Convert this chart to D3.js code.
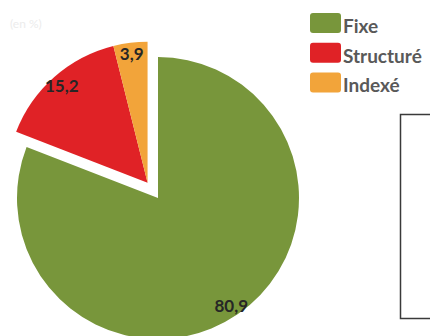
<!DOCTYPE html>
<html>
<head>
<meta charset="utf-8">
<script src="https://cdn.jsdelivr.net/npm/d3@7"></script>
<style>
  body { margin: 0; background: #fff; }
  svg { display: block; }
</style>
</head>
<body>
<svg width="430" height="336"></svg>
<script>
(function () {

    var categories = ["Fixe", "Structuré", "Indexé"];
    var values = [80.9, 15.2, 3.9];
    var valueLabels = ["80,9", "15,2", "3,9"];
    var colors = ["#78963b", "#e02226", "#f2a43a"];
    var exploded = [false, true, true];

    var svg = d3.select("svg"),
        width = +svg.attr("width"),
        height = +svg.attr("height");

    var cx = 158, cy = 198, radius = 141, explode = 18.5;

    var pie = d3.pie().sort(null).value(function (d) { return d.value; });
    var arcs = pie(categories.map(function (c, i) {
        return { name: c, value: values[i], label: valueLabels[i], color: colors[i], out: exploded[i] };
    }));

    // the two small slices are pulled out together, along their shared middle
    var outArcs = arcs.filter(function (d) { return d.data.out; });
    var midOut = (d3.min(outArcs, function (d) { return d.startAngle; }) +
                  d3.max(outArcs, function (d) { return d.endAngle; })) / 2;
    var ox = Math.sin(midOut) * explode,
        oy = -Math.cos(midOut) * explode;

    var arc = d3.arc().innerRadius(0).outerRadius(radius);
    var labelArc = d3.arc().innerRadius(radius * 0.92).outerRadius(radius * 0.92);

    // faint caption top left
    svg.append("text")
        .attr("x", 10)
        .attr("y", 28)
        .attr("font-family", "Lato, sans-serif")
        .attr("font-size", 12)
        .attr("fill", "#ececec")
        .text("(en %)");

    var g = svg.append("g");

    var slice = g.selectAll(".slice")
        .data(arcs)
        .enter().append("g")
        .attr("class", "slice")
        .attr("transform", function (d) {
            var dx = d.data.out ? ox : 0, dy = d.data.out ? oy : 0;
            return "translate(" + (cx + dx) + "," + (cy + dy) + ")";
        });

    slice.append("path")
        .attr("d", arc)
        .attr("fill", function (d) { return d.data.color; });

    slice.append("text")
        .attr("transform", function (d) { return "translate(" + labelArc.centroid(d) + ")"; })
        .attr("text-anchor", "middle")
        .attr("dominant-baseline", "central")
        .attr("font-family", "Lato, sans-serif")
        .attr("font-weight", "bold")
        .attr("font-size", 17)
        .attr("fill", "#262626")
        .text(function (d) { return d.data.label; });

    // legend
    var legend = svg.append("g")
        .attr("transform", "translate(310,13)");

    var item = legend.selectAll(".item")
        .data(categories)
        .enter().append("g")
        .attr("class", "item")
        .attr("transform", function (d, i) { return "translate(0," + (i * 29.7) + ")"; });

    item.append("rect")
        .attr("width", 31)
        .attr("height", 20)
        .attr("rx", 3)
        .attr("fill", function (d, i) { return colors[i]; });

    item.append("text")
        .attr("x", 33)
        .attr("y", 20)
        .attr("font-family", "Lato, sans-serif")
        .attr("font-weight", "bold")
        .attr("font-size", 19)
        .attr("fill", "#595959")
        .text(function (d) { return d; });

    // frame of the next panel, cut by the right edge
    svg.append("rect")
        .attr("x", 400.5)
        .attr("y", 114.5)
        .attr("width", 60)
        .attr("height", 204)
        .attr("fill", "none")
        .attr("stroke", "#3a3a3a")
        .attr("stroke-width", 1.5);

})();
</script>
</body>
</html>
